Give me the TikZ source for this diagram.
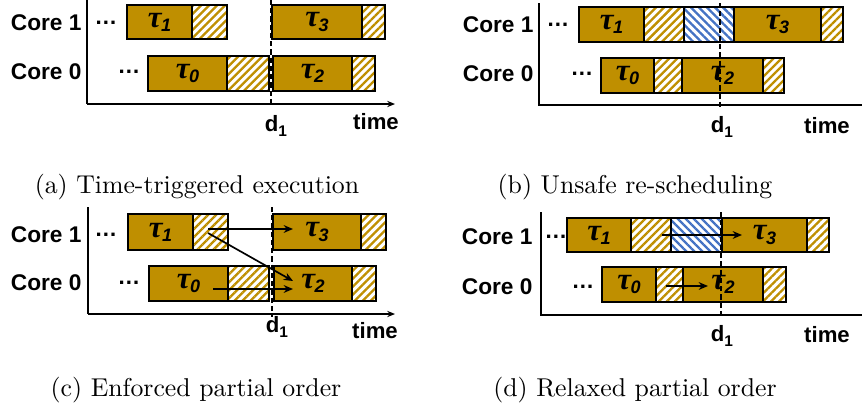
\documentclass[tikz,border=0pt]{standalone}
\usepackage{fontspec}
\newfontfamily\arialf{Liberation Sans}
\newfontfamily\seriff{Liberation Serif}
\usetikzlibrary{patterns.meta,fit,arrows.meta}
\definecolor{gold}{HTML}{BF8F00}
\definecolor{hblue}{HTML}{4472C4}
\newcommand\tsk[1]{{\fontsize{12}{12}\seriff\bfseries\itshape τ}\kern-0.2pt\raisebox{-1.6pt}{\fontsize{7}{7}\arialf\bfseries\itshape #1}}
\newcommand\bx[6]{\node[#1, fit={(#3,#4) (#5,#6)}] (#2) {};}
\newcommand\dee{d\raisebox{-1.8pt}{\fontsize{6}{6}\arialf\bfseries 1}}
\begin{document}
\begin{tikzpicture}[x=0.388pt,y=-0.388pt,
  task/.style={draw=black, line width=0.45pt, fill=gold, inner sep=0pt},
  gh/.style={draw=black, line width=0.45pt, inner sep=0pt, pattern={Lines[angle=45,distance=2.2pt,line width=0.9pt]}, pattern color=gold},
  bh/.style={draw=black, line width=0.45pt, inner sep=0pt, pattern={Lines[angle=-45,distance=2.2pt,line width=0.9pt]}, pattern color=hblue},
  axis/.style={line width=0.6pt},
  axarrow/.style={line width=0.6pt, -{Stealth[length=3pt,width=2.4pt]}},
  deadline/.style={line width=0.6pt, dash pattern=on 2pt off 1.2pt},
  dep/.style={line width=0.65pt, -{Stealth[length=3.6pt,width=3pt]}},
  core/.style={font=\fontsize{8.8}{9}\arialf\bfseries, anchor=east, inner sep=0pt},
  dots/.style={font=\fontsize{8.8}{9}\arialf\bfseries, inner sep=0pt},
  tl/.style={inner sep=0pt},
  ax/.style={font=\fontsize{8.6}{9}\arialf\bfseries, inner sep=0pt},
  captxt/.style={font=\fontsize{10}{12}\selectfont, inner sep=0pt}]
\useasboundingbox (0,0) rectangle (862,415);
\fill[white] (0,0) rectangle (862,415);

% ---------- (a) ----------
\coordinate (aT) at (87,0); \coordinate (aO) at (87,104); \coordinate (aE) at (395,104);
\draw[axis] (aT) -- (aO);
\draw[axarrow] (aO) -- (aE);
\node[core] (ac1) at (82,23) {Core 1};
\node[core] (ac0) at (82,72) {Core 0};
\node[dots] (ad1) at (106,23) {…};
\node[dots] (ad0) at (129,72) {…};
\bx{task}{a1}{127}{5}{192}{39}
\bx{gh}{a1h}{192}{5}{227}{39}
\bx{task}{a3}{272}{5}{362}{39}
\bx{gh}{a3h}{362}{5}{385}{39}
\bx{task}{a0}{148}{56}{227}{91}
\bx{gh}{a0h}{227}{56}{269}{91}
\bx{task}{a2}{273}{56}{352}{91}
\bx{gh}{a2h}{352}{56}{375}{91}
\node[tl] (a1l) at (a1) {\tsk{1}};
\node[tl] (a3l) at (a3) {\tsk{3}};
\node[tl] (a0l) at (a0) {\tsk{0}};
\node[tl] (a2l) at (a2) {\tsk{2}};
\coordinate (aDt) at (271,0); \coordinate (aDb) at (271,107);
\draw[deadline] (aDt) -- (aDb);
\node[ax] (adl) at (276,126) {\dee};
\node[ax] (atime) at (376,122) {time};
\node[captxt] (acap) at (197,187) {(a) Time-triggered execution};

% ---------- (b) ----------
\coordinate (bT) at (539,3); \coordinate (bO) at (539,105); \coordinate (bE) at (862,105);
\draw[axis] (bT) -- (bO) -- (bE);
\node[core] (bc1) at (534,25) {Core 1};
\node[core] (bc0) at (534,74) {Core 0};
\node[dots] (bd1) at (558,25) {…};
\node[dots] (bd0) at (582,74) {…};
\bx{task}{b1}{579}{7}{644}{42}
\bx{gh}{b1h}{644}{7}{684}{42}
\bx{bh}{b1b}{684}{7}{734}{42}
\bx{task}{b3}{734}{7}{821}{42}
\bx{gh}{b3h}{821}{7}{843}{42}
\bx{task}{b0}{601}{58}{654}{93}
\bx{gh}{b0h}{654}{58}{682}{93}
\bx{task}{b2}{682}{58}{763}{93}
\bx{gh}{b2h}{763}{58}{784}{93}
\node[tl] (b1l) at (b1) {\tsk{1}};
\node[tl] (b3l) at (b3) {\tsk{3}};
\node[tl] (b0l) at (b0) {\tsk{0}};
\node[tl] (b2l) at (b2) {\tsk{2}};
\coordinate (bDt) at (720,3); \coordinate (bDb) at (720,108);
\draw[deadline] (bDt) -- (bDb);
\node[ax] (bdl) at (722,127) {\dee};
\node[ax] (btime) at (827,126) {time};
\node[captxt] (bcap) at (635,187) {(b) Unsafe re-scheduling};

% ---------- (c) ----------
\coordinate (cT) at (88,207); \coordinate (cO) at (88,314); \coordinate (cE) at (395,314);
\draw[axis] (cT) -- (cO);
\draw[axarrow] (cO) -- (cE);
\node[core] (cc1) at (82,235) {Core 1};
\node[core] (cc0) at (82,283) {Core 0};
\node[dots] (cd1) at (106,235) {…};
\node[dots] (cd0) at (129,283) {…};
\bx{task}{c1}{128}{214}{193}{250}
\bx{gh}{c1h}{193}{214}{228}{250}
\bx{task}{c3}{273}{214}{361}{250}
\bx{gh}{c3h}{361}{214}{386}{250}
\bx{task}{c0}{149}{266}{228}{301}
\bx{gh}{c0h}{228}{266}{269}{301}
\bx{task}{c2}{274}{266}{352}{301}
\bx{gh}{c2h}{352}{266}{376}{301}
\node[tl] (c1l) at (c1) {\tsk{1}};
\node[tl] (c3l) at (c3) {\tsk{3}};
\node[tl] (c0l) at (c0) {\tsk{0}};
\node[tl] (c2l) at (c2) {\tsk{2}};
\coordinate (cDt) at (272,207); \coordinate (cDb) at (272,317);
\draw[deadline] (cDt) -- (cDb);
\coordinate (cA1s) at (208,229); \coordinate (cA1e) at (293,229);
\coordinate (cA2s) at (208,233); \coordinate (cA2e) at (293,281);
\coordinate (cA3s) at (213,289); \coordinate (cA3e) at (293,289);
\draw[dep] (cA1s) -- (cA1e);
\draw[dep] (cA2s) -- (cA2e);
\draw[dep] (cA3s) -- (cA3e);
\node[ax] (cdl) at (277,327) {\dee};
\node[ax] (ctime) at (375,331) {time};
\node[captxt] (ccap) at (196,390) {(c) Enforced partial order};

% ---------- (d) ----------
\coordinate (dT) at (541,212); \coordinate (dO) at (541,315); \coordinate (dE) at (862,315);
\draw[axis] (dT) -- (dO) -- (dE);
\node[core] (dc1) at (533,237) {Core 1};
\node[core] (dc0) at (533,287) {Core 0};
\node[dots] (dd1) at (556,237) {…};
\node[dots] (dd0) at (583,287) {…};
\bx{task}{d1}{567}{218}{631}{252}
\bx{gh}{d1h}{631}{218}{671}{252}
\bx{bh}{d1b}{671}{218}{722}{252}
\bx{task}{d3}{722}{218}{807}{252}
\bx{gh}{d3h}{807}{218}{829}{252}
\bx{task}{d0}{602}{267}{656}{302}
\bx{gh}{d0h}{656}{267}{683}{302}
\bx{task}{d2}{683}{267}{763}{302}
\bx{gh}{d2h}{763}{267}{786}{302}
\node[tl] (d1l) at (d1) {\tsk{1}};
\node[tl] (d3l) at (d3) {\tsk{3}};
\node[tl] (d0l) at (d0) {\tsk{0}};
\node[tl] (d2l) at (d2) {\tsk{2}};
\coordinate (dDt) at (721,212); \coordinate (dDb) at (721,316);
\draw[deadline] (dDt) -- (dDb);
\coordinate (dA1s) at (662,235); \coordinate (dA1e) at (742,235);
\coordinate (dA2s) at (666,286); \coordinate (dA2e) at (708,286);
\draw[dep] (dA1s) -- (dA1e);
\draw[dep] (dA2s) -- (dA2e);
\node[ax] (ddl) at (722,336) {\dee};
\node[ax] (dtime) at (827,335) {time};
\node[captxt] (dcap) at (635,390) {(d) Relaxed partial order};
\end{tikzpicture}
\end{document}
